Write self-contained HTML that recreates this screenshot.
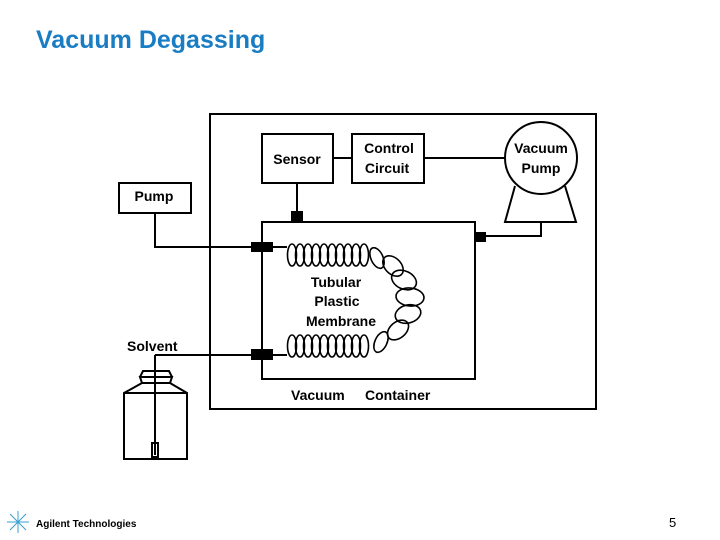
<!DOCTYPE html><html><head><style>body{margin:0;width:720px;height:540px;background:#fff;overflow:hidden;position:relative;font-family:"Liberation Sans",sans-serif}</style></head><body>
<div style="position:absolute;left:36px;top:26px;font-size:25px;font-weight:bold;color:#1a7dc4">Vacuum Degassing</div>
<svg width="720" height="540" style="position:absolute;left:0;top:0" font-family="Liberation Sans, sans-serif" font-weight="bold" font-size="14">
<g fill="none" stroke="#000" stroke-width="2">
<rect x="210" y="114" width="386" height="295"/>
<rect x="262" y="134" width="71" height="49"/>
<rect x="352" y="134" width="72" height="49"/>
<circle cx="541" cy="158" r="36"/>
<path d="M515 186 L505 222 L576 222 L565 186"/>
<rect x="119" y="183" width="72" height="30"/>
<rect x="262" y="222" width="213" height="157"/>
<path d="M333 158H352M424 158H505M297 183V212M486 236H541V222M155 213V247H287M155 355H287M155 355V455"/>
<path d="M124 459V393L142 383H170L187 393V459Z M124 393H187"/>
<path d="M142 383L140 377H172L170 383M140 377L143 371H169L172 377"/>
<rect x="152" y="443" width="6" height="14"/>
</g>
<g fill="#000"><rect x="291" y="211" width="12" height="11"/><rect x="476" y="232" width="10" height="10"/><rect x="251" y="242" width="22" height="10"/><rect x="251" y="349" width="22" height="11"/></g>
<g fill="none" stroke="#000" stroke-width="1.6">
<ellipse cx="292" cy="255" rx="4.5" ry="11"/><ellipse cx="300" cy="255" rx="4.5" ry="11"/><ellipse cx="308" cy="255" rx="4.5" ry="11"/><ellipse cx="316" cy="255" rx="4.5" ry="11"/><ellipse cx="324" cy="255" rx="4.5" ry="11"/><ellipse cx="332" cy="255" rx="4.5" ry="11"/><ellipse cx="340" cy="255" rx="4.5" ry="11"/><ellipse cx="348" cy="255" rx="4.5" ry="11"/><ellipse cx="356" cy="255" rx="4.5" ry="11"/><ellipse cx="364" cy="255" rx="4.5" ry="11"/>
<ellipse cx="292" cy="346" rx="4.5" ry="11"/><ellipse cx="300" cy="346" rx="4.5" ry="11"/><ellipse cx="308" cy="346" rx="4.5" ry="11"/><ellipse cx="316" cy="346" rx="4.5" ry="11"/><ellipse cx="324" cy="346" rx="4.5" ry="11"/><ellipse cx="332" cy="346" rx="4.5" ry="11"/><ellipse cx="340" cy="346" rx="4.5" ry="11"/><ellipse cx="348" cy="346" rx="4.5" ry="11"/><ellipse cx="356" cy="346" rx="4.5" ry="11"/><ellipse cx="364" cy="346" rx="4.5" ry="11"/>
<ellipse cx="377" cy="258" rx="6" ry="11" transform="rotate(-25 377 258)"/>
<ellipse cx="393" cy="266" rx="8" ry="12" transform="rotate(-45 393 266)"/>
<ellipse cx="404" cy="280" rx="13" ry="9" transform="rotate(25 404 280)"/>
<ellipse cx="410" cy="297" rx="14" ry="9" transform="rotate(5 410 297)"/>
<ellipse cx="408" cy="314" rx="13" ry="9" transform="rotate(-15 408 314)"/>
<ellipse cx="398" cy="330" rx="12" ry="8" transform="rotate(-40 398 330)"/>
<ellipse cx="381" cy="342" rx="6" ry="11" transform="rotate(25 381 342)"/>
</g>
<text x="297" y="164" text-anchor="middle">Sensor</text>
<text x="389" y="153" text-anchor="middle">Control</text><text x="387" y="173" text-anchor="middle">Circuit</text>
<text x="541" y="153" text-anchor="middle">Vacuum</text><text x="541" y="173" text-anchor="middle">Pump</text>
<text x="154" y="201" text-anchor="middle">Pump</text>
<text x="336" y="287" text-anchor="middle">Tubular</text><text x="337" y="306" text-anchor="middle">Plastic</text><text x="341" y="326" text-anchor="middle">Membrane</text>
<text x="127" y="351">Solvent</text>
<text x="291" y="400">Vacuum</text><text x="365" y="400">Container</text>
<g stroke="#3aa0d0" stroke-width="1"><path d="M18 511V533M7 522H29M10 514L26 530M26 514L10 530"/></g>
<text x="36" y="527" font-size="10">Agilent Technologies</text>
<text x="669" y="527" font-size="13" font-weight="normal">5</text>
</svg>
</body></html>
